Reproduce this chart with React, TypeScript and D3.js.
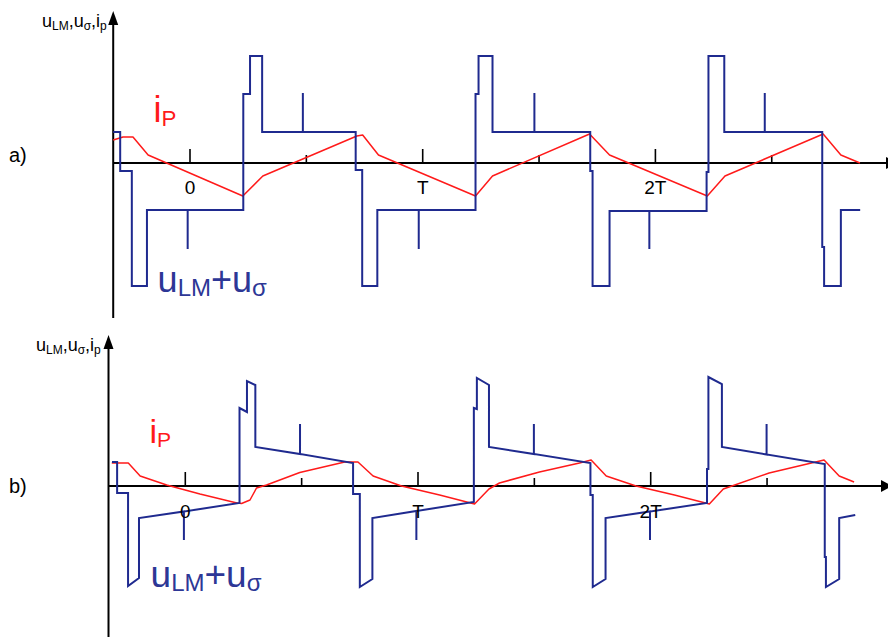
import * as d3 from "d3";
import React from "react";

// time in units where T = 100, values in arbitrary units (axis = 0)
const periodTicks = [0, 100, 200];
const periodLabels = ["0", "T", "2T"];
const halfTicks = [50, 150, 250];

// panel a) uLM + u_sigma
const uA: [number, number][] = [
  [-33, 3.1], [-30, 3.1], [-30, -0.8], [-25, -0.8], [-25, -12.3], [-18.5, -12.3], [-18.5, -4.7],
  [-1, -4.7], [-1, -8.6], [-1, -4.7],
  [22.9, -4.7], [22.9, 6.9], [25.8, 6.9], [25.8, 10.7], [31, 10.7], [31, 3.1],
  [48.5, 3.1], [48.5, 7.0], [48.5, 3.1],
  [71.2, 3.1], [71.2, -0.7], [74, -0.7], [74, -12.3], [80.5, -12.3], [80.5, -4.7],
  [98.3, -4.7], [98.3, -8.6], [98.3, -4.7],
  [122.7, -4.7], [122.7, 6.9], [124, 6.9], [124, 10.7], [130, 10.7], [130, 3.1],
  [148, 3.1], [148, 7.0], [148, 3.1],
  [172, 3.1], [172, -0.8], [173, -0.8], [173, -12.3], [180.3, -12.3], [180.3, -4.8],
  [197.4, -4.8], [197.4, -8.6], [197.4, -4.8],
  [222, -4.8], [222, -0.9], [222.8, -0.9], [222.8, 10.7], [229.6, 10.7], [229.6, 3.1],
  [247, 3.1], [247, 7.0], [247, 3.1],
  [271.7, 3.1], [271.7, -8.4], [272.5, -8.4], [272.5, -12.3], [279.7, -12.3], [279.7, -4.7], [288, -4.7],
];

// panel a) i_P
const iA: [number, number][] = [
  [-33, 2.3], [-28.8, 2.6], [-24.5, 2.6], [-18, 0.8], [22.7, -3.3], [31.3, -1.3],
  [71.7, 2.7], [74.2, 2.8], [81, 0.8], [122.7, -3.3], [130, -1.3],
  [171.7, 2.9], [180.3, 0.8], [222.3, -3.3], [229.9, -1.3],
  [272.1, 2.9], [279.7, 0.8], [287.9, 0],
];

// panel b) uLM + u_sigma
const uB: [number, number][] = [
  [-31.5, 2.4], [-29.3, 2.4], [-29.3, -0.7], [-24.6, -0.7], [-24.6, -10.0], [-19.9, -9.2], [-19.9, -3.2],
  [-0.6, -2.55], [-0.6, -5.4], [-0.6, -2.55],
  [23.3, -1.7], [23.3, 7.8], [26.5, 7.4], [26.5, 10.5], [30.1, 10.1], [30.1, 3.9],
  [49.3, 3.2], [49.3, 6.2], [49.3, 3.2],
  [72.1, 2.3], [72.1, -0.8], [75, -0.8], [75, -10.1], [80.4, -9.3], [80.4, -3.2],
  [99.3, -2.5], [99.3, -5.4], [99.3, -2.5],
  [124, -1.6], [124, 7.8], [125.3, 7.7], [125.3, 10.8], [130.5, 10.1], [130.5, 3.9],
  [149.8, 3.2], [149.8, 6.2], [149.8, 3.2],
  [174.1, 2.3], [174.1, -0.9], [175.1, -0.9], [175.1, -10.1], [180.6, -9.3], [180.6, -3.2],
  [199.7, -2.55], [199.7, -5.4], [199.7, -2.55],
  [224.2, -1.7], [224.2, 1.7], [224.8, 1.7], [224.8, 10.9], [230.6, 10.2], [230.6, 3.9],
  [249.8, 3.15], [249.8, 6.2], [249.8, 3.15],
  [274.8, 2.2], [274.8, -7.1], [275.3, -7.1], [275.3, -10.1], [281, -9.3], [281, -3.2], [287.9, -2.9],
];

// panel b) i_P
const iB: [number, number][] = [
  [-31.6, 2.3], [-24.5, 2.3], [-19.4, 1.0], [-8, 0.1], [6.3, -0.8], [22.2, -1.7], [24.2, -1.75],
  [27.8, -1.4], [30.6, -0.2], [34.9, 0.1], [49.2, 1.35], [68.5, 2.4], [74.2, 2.4],
  [80.7, 1.0], [92.9, 0], [109.3, -0.9], [124.3, -1.8], [130.5, -0.3], [135, 0.3],
  [152.2, 1.4], [169.4, 2.3], [174.4, 2.6], [180.9, 1.0], [193.7, 0], [210.2, -0.9],
  [225.2, -1.8], [231.2, -0.3], [250.9, 1.3], [274.5, 2.6], [281, 1.0], [287.4, 0.4],
];

const BLUE = "#1f2a8f";
const BLUE_TEXT = "#2d3796";
const RED = "#ff1a1a";
const FONT = "'Liberation Sans', Arial, sans-serif";

type PanelProps = {
  name: string;
  u: [number, number][];
  ip: [number, number][];
  x0: number;
  y0: number;
  yTop: number;
  yBottom: number;
  xEnd: number;
  tickLabelY: number;
  nameXY: [number, number];
  ipXY: [number, number, number];
  uXY: [number, number, number];
  axisLabelXY: [number, number];
};

function Panel(p: PanelProps) {
  const x = d3.scaleLinear().domain([0, 100]).range([p.x0, p.x0 + 232.7]);
  const y = d3.scaleLinear().domain([0, 10]).range([p.y0, p.y0 - 100]);
  const line = d3
    .line<[number, number]>()
    .x((d) => x(d[0]))
    .y((d) => y(d[1]));
  const ax = x(-33);

  return (
    <g>
      {/* axes */}
      <line x1={ax} x2={ax} y1={p.yTop + 12} y2={p.yBottom} stroke="#000" strokeWidth={2} />
      <path d={`M${ax},${p.yTop} L${ax - 5},${p.yTop + 14} L${ax + 5},${p.yTop + 14} Z`} fill="#000" />
      <line x1={ax} x2={p.xEnd} y1={y(0)} y2={y(0)} stroke="#000" strokeWidth={2} />
      <path d={`M${p.xEnd + 11},${y(0)} L${p.xEnd},${y(0) - 6} L${p.xEnd},${y(0) + 6} Z`} fill="#000" />

      {periodTicks.map((t) => (
        <line key={"M" + t} x1={x(t)} x2={x(t)} y1={y(0) - 14} y2={y(0)} stroke="#000" strokeWidth={1.6} />
      ))}
      {halfTicks.map((t) => (
        <line key={"m" + t} x1={x(t)} x2={x(t)} y1={y(0) - 8} y2={y(0)} stroke="#000" strokeWidth={1.6} />
      ))}

      <path d={line(p.ip) ?? ""} fill="none" stroke={RED} strokeWidth={1.5} strokeLinejoin="round" />
      <path d={line(p.u) ?? ""} fill="none" stroke={BLUE} strokeWidth={2} />

      {periodTicks.map((t, i) => (
        <text key={"l" + t} x={x(t)} y={p.tickLabelY} textAnchor="middle" fontSize={19} fill="#000">
          {periodLabels[i]}
        </text>
      ))}

      <text x={p.nameXY[0]} y={p.nameXY[1]} fontSize={20} fill="#000">
        {p.name}
      </text>

      <text x={p.axisLabelXY[0]} y={p.axisLabelXY[1]} fontSize={18} fill="#000">
        u<tspan fontSize={12} dy={3}>LM</tspan>
        <tspan dy={-3}>,u</tspan>
        <tspan fontSize={12} dy={3}>σ</tspan>
        <tspan dy={-3}>,i</tspan>
        <tspan fontSize={12} dy={3}>p</tspan>
      </text>

      <text x={p.ipXY[0]} y={p.ipXY[1]} fontSize={p.ipXY[2]} fill={RED}>
        i<tspan fontSize={p.ipXY[2] * 0.62} dy={4}>P</tspan>
      </text>

      <text x={p.uXY[0]} y={p.uXY[1]} fontSize={p.uXY[2]} fill={BLUE_TEXT}>
        u<tspan fontSize={24} dy={4}>LM</tspan>
        <tspan dy={-4}>+u</tspan>
        <tspan fontSize={24} dy={4}>σ</tspan>
      </text>
    </g>
  );
}

export default function App() {
  return (
    <svg
      width={888}
      height={637}
      style={{ position: "absolute", left: 0, top: 0, background: "#fff", fontFamily: FONT }}
    >
      <Panel
        name="a)"
        u={uA}
        ip={iA}
        x0={190}
        y0={163}
        yTop={11}
        yBottom={318}
        xEnd={886}
        tickLabelY={194}
        nameXY={[9, 162]}
        ipXY={[153.5, 121.7, 36]}
        uXY={[157.6, 291.7, 36]}
        axisLabelXY={[42, 27]}
      />
      <Panel
        name="b)"
        u={uB}
        ip={iB}
        x0={185.3}
        y0={486}
        yTop={335}
        yBottom={637}
        xEnd={881}
        tickLabelY={518}
        nameXY={[9, 493]}
        ipXY={[149.4, 443.3, 34]}
        uXY={[150.6, 586.7, 37]}
        axisLabelXY={[36, 351]}
      />
    </svg>
  );
}
